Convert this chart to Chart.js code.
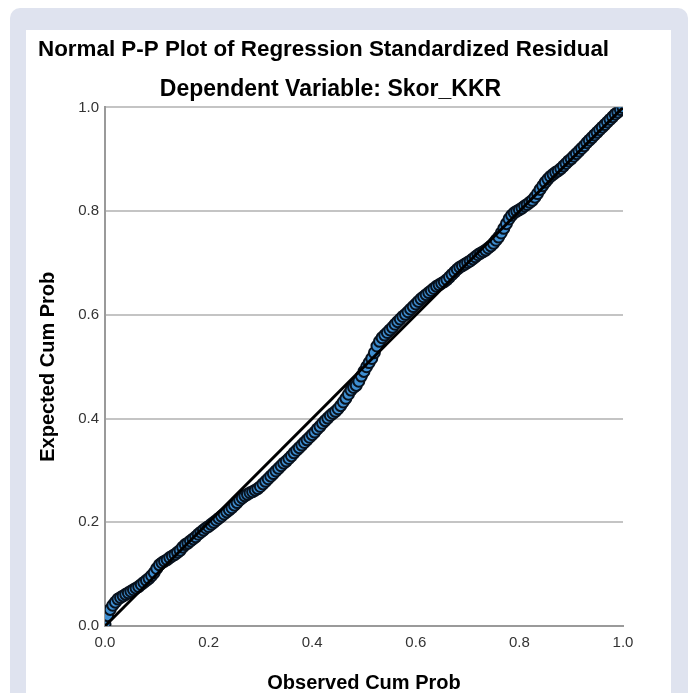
<!DOCTYPE html>
<html>
<head>
<meta charset="utf-8">
<script src="https://cdn.jsdelivr.net/npm/chart.js@4.4.1/dist/chart.umd.min.js"></script>
<style>
  body { margin: 0; background: #ffffff; }
  #frame { position: absolute; left: 10px; top: 8px; width: 678px; height: 700px; background: #dfe3ef; border-radius: 10px; }
  #panel { position: absolute; left: 26px; top: 30px; width: 645px; height: 663px; background: #ffffff; }
</style>
</head>
<body>
<div id="frame"></div>
<div id="panel"><canvas id="myChart" width="645" height="663"></canvas></div>
<script>
// observed cum prob (x) and expected cum prob (y)
var observed = [0.000,
  0.005,0.010,0.015,0.020,0.025,0.030,0.035,0.040,0.045,0.050,
  0.055,0.060,0.065,0.070,0.075,0.080,0.085,0.090,0.095,0.100,
  0.105,0.110,0.115,0.120,0.125,0.130,0.135,0.140,0.145,0.150,
  0.155,0.160,0.165,0.170,0.175,0.180,0.185,0.190,0.195,0.200,
  0.205,0.210,0.215,0.220,0.225,0.230,0.235,0.240,0.245,0.250,
  0.255,0.260,0.265,0.270,0.275,0.280,0.285,0.290,0.295,0.300,
  0.305,0.310,0.315,0.320,0.325,0.330,0.335,0.340,0.345,0.350,
  0.355,0.360,0.365,0.370,0.375,0.380,0.385,0.390,0.395,0.400,
  0.405,0.410,0.415,0.420,0.425,0.430,0.435,0.440,0.445,0.450,
  0.455,0.460,0.465,0.470,0.475,0.480,0.485,0.490,0.495,0.500,
  0.505,0.510,0.515,0.520,0.525,0.530,0.535,0.540,0.545,0.550,
  0.555,0.560,0.565,0.570,0.575,0.580,0.585,0.590,0.595,0.600,
  0.605,0.610,0.615,0.620,0.625,0.630,0.635,0.640,0.645,0.650,
  0.655,0.660,0.665,0.670,0.675,0.680,0.685,0.690,0.695,0.700,
  0.705,0.710,0.715,0.720,0.725,0.730,0.735,0.740,0.745,0.750,
  0.755,0.760,0.765,0.770,0.775,0.780,0.785,0.790,0.795,0.800,
  0.805,0.810,0.815,0.820,0.825,0.830,0.835,0.840,0.845,0.850,
  0.855,0.860,0.865,0.870,0.875,0.880,0.885,0.890,0.895,0.900,
  0.905,0.910,0.915,0.920,0.925,0.930,0.935,0.940,0.945,0.950,
  0.955,0.960,0.965,0.970,0.975,0.980,0.985,0.990,0.995,1.000]
var expected = [0.004,
  0.020,0.032,0.040,0.046,0.052,0.055,0.058,0.061,0.064,0.067,
  0.070,0.073,0.076,0.080,0.084,0.088,0.092,0.097,0.103,0.111,
  0.118,0.122,0.125,0.128,0.132,0.135,0.138,0.142,0.146,0.152,
  0.157,0.160,0.164,0.168,0.172,0.177,0.181,0.185,0.189,0.192,
  0.196,0.200,0.204,0.208,0.212,0.216,0.220,0.224,0.228,0.233,
  0.238,0.243,0.247,0.251,0.254,0.257,0.259,0.262,0.265,0.269,
  0.274,0.279,0.284,0.289,0.294,0.299,0.304,0.309,0.314,0.318,
  0.323,0.328,0.334,0.339,0.344,0.349,0.354,0.359,0.364,0.369,
  0.374,0.380,0.385,0.391,0.396,0.401,0.406,0.410,0.414,0.419,
  0.425,0.432,0.439,0.447,0.455,0.460,0.464,0.472,0.482,0.491,
  0.500,0.508,0.516,0.527,0.540,0.549,0.556,0.561,0.566,0.571,
  0.576,0.582,0.587,0.592,0.597,0.601,0.606,0.611,0.616,0.621,
  0.626,0.631,0.635,0.639,0.643,0.647,0.651,0.655,0.658,0.661,
  0.664,0.668,0.673,0.678,0.683,0.688,0.692,0.695,0.698,0.701,
  0.704,0.708,0.712,0.716,0.719,0.722,0.725,0.729,0.733,0.738,
  0.744,0.750,0.758,0.767,0.776,0.785,0.792,0.797,0.800,0.803,
  0.806,0.810,0.813,0.817,0.821,0.827,0.834,0.842,0.849,0.856,
  0.862,0.867,0.871,0.875,0.878,0.882,0.887,0.892,0.897,0.901,
  0.906,0.911,0.916,0.921,0.926,0.932,0.937,0.942,0.947,0.952,
  0.957,0.962,0.967,0.972,0.977,0.982,0.987,0.991,0.996,1.000]
var refLine = [[0, 0], [1, 1]]
var yTicks = [0, 0.2, 0.4, 0.6, 0.8, 1.0]

var points = []
for (var i = 0; i < observed.length; i++) {
  points.push({x: observed[i], y: expected[i]})
}

var ctx = document.getElementById("myChart").getContext('2d')
var chart = new Chart(ctx, {
  type: 'scatter',
  data: {
    datasets: [
      {
        type: 'line',
        label: 'Reference',
        data: refLine.map(function(p){ return {x: p[0], y: p[1]} }),
        borderColor: '#000000',
        borderWidth: 3,
        pointRadius: 0,
        order: 0
      },
      {
        label: 'Residuals',
        data: points,
        backgroundColor: '#3f8fd2',
        borderColor: '#08121e',
        borderWidth: 2,
        pointRadius: 5.5,
        order: 1
      }
    ]
  },
  options: {
    responsive: false,
    animation: false,
    layout: { padding: { left: 12, right: 48, top: 0, bottom: 0 } },
    plugins: {
      legend: { display: false },
      tooltip: { enabled: false },
      title: {
        display: true,
        text: 'Normal P-P Plot of Regression Standardized Residual',
        align: 'start',
        color: '#000000',
        font: { family: 'Liberation Sans', size: 22.4, weight: 'bold', lineHeight: 1.2 },
        padding: { top: 6, bottom: 0 }
      },
      subtitle: {
        display: true,
        text: 'Dependent Variable: Skor_KKR',
        color: '#000000',
        font: { family: 'Liberation Sans', size: 23, weight: 'bold', lineHeight: 1.2 },
        padding: { top: 13, bottom: 4 }
      }
    },
    scales: {
      x: {
        type: 'linear',
        min: 0, max: 1,
        afterFit: function(scale){ scale.height = 67 },
        ticks: {
          stepSize: 0.2,
          padding: 8,
          color: '#333333',
          font: { family: 'Liberation Sans', size: 15 },
          callback: function(v){ return v.toFixed(1) }
        },
        grid: { display: false, drawTicks: false },
        border: { display: true, color: '#9a9a9a', width: 2 },
        title: {
          display: true,
          text: 'Observed Cum Prob',
          color: '#000000',
          font: { family: 'Liberation Sans', size: 20, weight: 'bold', lineHeight: 1 },
          padding: 0
        }
      },
      y: {
        type: 'linear',
        min: 0, max: 1,
        afterFit: function(scale){ scale.width = 67 },
        afterBuildTicks: function(scale){ scale.ticks = yTicks.map(function(v){ return {value: v} }) },
        ticks: {
          padding: 6,
          color: '#333333',
          font: { family: 'Liberation Sans', size: 15 },
          callback: function(v){ return v.toFixed(1) }
        },
        grid: { color: '#c4c4c4', lineWidth: 2, drawTicks: false },
        border: { display: true, color: '#9a9a9a', width: 2 },
        title: {
          display: true,
          text: 'Expected Cum Prob',
          color: '#000000',
          font: { family: 'Liberation Sans', size: 20, weight: 'bold', lineHeight: 1 },
          padding: 0
        }
      }
    }
  }
})
</script>
</body>
</html>
